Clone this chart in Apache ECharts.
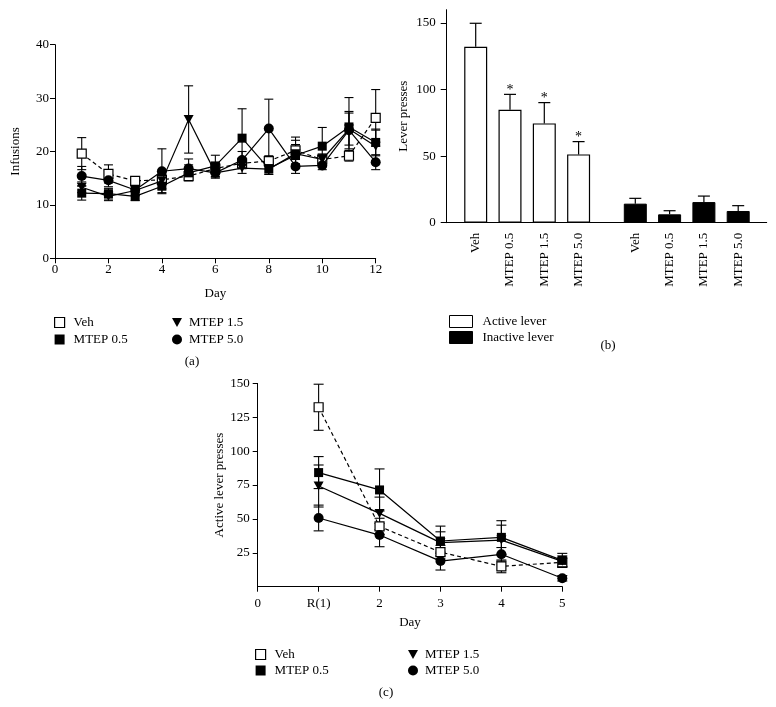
<!DOCTYPE html>
<html>
<head>
<meta charset="utf-8">
<script src="https://cdn.jsdelivr.net/npm/echarts@6/dist/echarts.min.js"></script>
<style>
html,body{margin:0;padding:0;background:#fff;}
#chart{width:776px;height:707px;}
</style>
</head>
<body>
<div id="chart"></div>
<script>
// ---------- DATA ----------
// Panel (a): infusions by day
const daysA = [1,2,3,4,5,6,7,8,9,10,11,12];
const vehA   = [19.6, 15.8, 14.5, 14.7, 15.4, 16.8, 17.8, 18.2, 20.2, 18.5, 19.2, 26.3];
const vehASem= [3.0, 1.7, 0.8, 1.0, 0.8, 1.0, 1.0, 1.0, 2.5, 1.0, 1.0, 5.3];
const m05A   = [12.2, 12.1, 11.6, 13.5, 16.0, 17.3, 22.5, 16.8, 19.3, 21.0, 24.6, 21.7];
const m05ASem= [1.3, 1.0, 0.8, 1.2, 1.5, 2.0, 5.5, 1.0, 2.0, 3.5, 5.5, 2.5];
const m15A   = [13.3, 11.6, 12.7, 14.5, 26.0, 16.0, 16.9, 16.7, 19.6, 18.5, 24.2, 21.0];
const m15ASem= [1.0, 0.8, 1.0, 1.5, 6.3, 1.0, 1.0, 1.0, 2.5, 1.0, 3.0, 3.0];
const m50A   = [15.4, 14.6, 12.8, 16.3, 16.8, 16.0, 18.4, 24.3, 17.2, 17.4, 24.0, 18.0];
const m50ASem= [1.8, 1.2, 1.0, 4.2, 1.8, 0.8, 1.6, 5.5, 1.3, 0.8, 3.5, 1.4];

// Panel (b): lever presses
const groupsB = ['Veh','MTEP 0.5','MTEP 1.5','MTEP 5.0'];
const activeB = [132.2, 84.9, 74.6, 51.3];
const activeBSem = [17.6, 11.5, 15.6, 9.6];
const activeBSig = [false, true, true, true];
const inactiveB = [14.3, 6.3, 15.5, 8.8];
const inactiveBSem = [4.0, 2.7, 4.5, 4.0];
const yTicksB = [0, 50, 100, 150];

// Panel (c): active lever presses
const catsC = ['0','R(1)','2','3','4','5'];
const vehC = [132.4, 44.5, 25.5, 15.0, 18.0];
const vehCSem = [17, 6, 5, 4.7, 3];
const m05C = [84.2, 71.4, 33.7, 36.4, 19.4];
const m05CSem = [11.8, 15.5, 11, 12.3, 5.2];
const m15C = [74.3, 54.1, 32.5, 34.4, 18.7];
const m15CSem = [15.5, 12, 8, 11, 4];
const m50C = [50.7, 38.1, 18.9, 23.9, 6.2];
const m50CSem = [9.5, 8.6, 6.6, 5, 2];

const seriesNames = ['Veh','MTEP 0.5','MTEP 1.5','MTEP 5.0'];

// ---------- STYLE ----------
const FONT = '"Liberation Serif","DejaVu Serif",serif';
const FS = 13;
const TRI = 'path://M0,0L10,0L5,9Z';
const styles = {
  'Veh':      {symbol:'rect', size:9, item:{color:'#fff',borderColor:'#000',borderWidth:1.2}, line:{color:'#000',width:1.2,type:[4,3]}},
  'MTEP 0.5': {symbol:'rect', size:9, item:{color:'#000',borderColor:'#000',borderWidth:0}, line:{color:'#000',width:1.2}},
  'MTEP 1.5': {symbol:TRI, size:[10,9], item:{color:'#000'}, line:{color:'#000',width:1.2}},
  'MTEP 5.0': {symbol:'circle', size:10, item:{color:'#000'}, line:{color:'#000',width:1.2}}
};
const textBase = {fontFamily:FONT, fontSize:FS, color:'#000'};

function errRender(hw){
  return function(params, api){
    const x = api.value(0), y = api.value(1), e = api.value(2);
    const t = api.coord([x, y + e]);
    const b = api.coord([x, y - e]);
    const st = {stroke:'#000', lineWidth:1.1};
    return {type:'group', children:[
      {type:'line', shape:{x1:t[0],y1:t[1],x2:b[0],y2:b[1]}, style:st},
      {type:'line', shape:{x1:t[0]-hw,y1:t[1],x2:t[0]+hw,y2:t[1]}, style:st},
      {type:'line', shape:{x1:b[0]-hw,y1:b[1],x2:b[0]+hw,y2:b[1]}, style:st}
    ]};
  };
}
function barErrRender(params, api){
  const x = api.value(0), y = api.value(1), e = api.value(2), sig = api.value(3);
  const base = api.coord([x, y]);
  const t = api.coord([x, y + e]);
  const st = {stroke:'#000', lineWidth:1.2};
  const ch = [
    {type:'line', shape:{x1:t[0],y1:t[1],x2:base[0],y2:base[1]}, style:st},
    {type:'line', shape:{x1:t[0]-6,y1:t[1],x2:t[0]+6,y2:t[1]}, style:st}
  ];
  if (sig) ch.push({type:'text', style:{text:'*', x:t[0], y:t[1]-4, align:'center', verticalAlign:'middle', font:'14px ' + FONT, fill:'#000'}});
  return {type:'group', children:ch};
}

const series = [];
// Panel (a)
const aVals = [vehA, m05A, m15A, m50A];
const aSems = [vehASem, m05ASem, m15ASem, m50ASem];
seriesNames.forEach((n, k) => {
  series.push({type:'custom', xAxisIndex:0, yAxisIndex:0, renderItem:errRender(4.5), z:1, silent:true,
    data: daysA.map((d,i)=>[d, aVals[k][i], aSems[k][i]])});
});
[1,2,3,0].forEach(k => {
  const n = seriesNames[k], s = styles[n];
  series.push({name:n, type:'line', xAxisIndex:0, yAxisIndex:0, z:3+k,
    symbol:s.symbol, symbolSize:s.size, itemStyle:s.item, lineStyle:s.line, showAllSymbol:true,
    data: daysA.map((d,i)=>[d, aVals[k][i]])});
});
// Panel (b)
series.push({name:'Active lever', type:'bar', xAxisIndex:2, yAxisIndex:2, barWidth:23,
  itemStyle:{color:'#fff', borderColor:'#000', borderWidth:1.2}, data: activeB, z:2});
series.push({type:'custom', xAxisIndex:2, yAxisIndex:2, renderItem:barErrRender, z:1, silent:true,
  data: activeB.map((v,i)=>[i, v, activeBSem[i], activeBSig[i]?1:0])});
series.push({name:'Inactive lever', type:'bar', xAxisIndex:3, yAxisIndex:3, barWidth:23,
  itemStyle:{color:'#000', borderColor:'#000', borderWidth:1}, data: inactiveB, z:2});
series.push({type:'custom', xAxisIndex:3, yAxisIndex:3, renderItem:barErrRender, z:1, silent:true,
  data: inactiveB.map((v,i)=>[i, v, inactiveBSem[i], 0])});
// Panel (c)
const cVals = [vehC, m05C, m15C, m50C];
const cSems = [vehCSem, m05CSem, m15CSem, m50CSem];
seriesNames.forEach((n, k) => {
  series.push({type:'custom', xAxisIndex:4, yAxisIndex:4, renderItem:errRender(5), z:1, silent:true,
    data: cVals[k].map((v,i)=>[i+1, v, cSems[k][i]])});
});
[1,2,3,0].forEach(k => {
  const n = seriesNames[k], s = styles[n];
  series.push({name:n, type:'line', xAxisIndex:4, yAxisIndex:4, z:3+k,
    symbol:s.symbol, symbolSize:s.size, itemStyle:s.item, lineStyle:s.line, showAllSymbol:true,
    data: cVals[k].map((v,i)=>[i+1, v])});
});

const axLine = {show:true, lineStyle:{color:'#000', width:1}};
const axTick = {show:true, length:5, lineStyle:{color:'#000', width:1}};

function legendItem(n){
  const s = styles[n];
  return {name:n, icon: s.symbol, itemStyle: Object.assign({}, s.item)};
}

const option = {
  animation:false,
  backgroundColor:'#fff',
  textStyle:{fontFamily:FONT},
  title:[
    {text:'(a)', left:192, top:362, textAlign:'center', textVerticalAlign:'middle', textStyle:Object.assign({}, textBase, {fontWeight:'normal'}), padding:0},
    {text:'(b)', left:608, top:346, textAlign:'center', textVerticalAlign:'middle', textStyle:Object.assign({}, textBase, {fontWeight:'normal'}), padding:0},
    {text:'(c)', left:386, top:693, textAlign:'center', textVerticalAlign:'middle', textStyle:Object.assign({}, textBase, {fontWeight:'normal'}), padding:0}
  ],
  legend:[
    {orient:'vertical', left:54, top:316, itemWidth:10, itemHeight:10, itemGap:4, padding:0, selectedMode:false,
      textStyle:Object.assign({}, textBase, {padding:[0,0,0,4]}), data:[legendItem('Veh'), legendItem('MTEP 0.5')]},
    {orient:'vertical', left:172, top:316, itemWidth:10, itemHeight:10, itemGap:4, padding:0, selectedMode:false,
      textStyle:Object.assign({}, textBase, {padding:[0,0,0,2]}), data:[legendItem('MTEP 1.5'), legendItem('MTEP 5.0')]},
    {orient:'vertical', left:449, top:315, itemWidth:23, itemHeight:12, itemGap:3, padding:0, selectedMode:false,
      textStyle:Object.assign({}, textBase, {padding:[0,0,0,5]}),
      data:[{name:'Active lever', icon:'rect', itemStyle:{color:'#fff', borderColor:'#000', borderWidth:1}},
            {name:'Inactive lever', icon:'rect', itemStyle:{color:'#000', borderColor:'#000', borderWidth:1}}]},
    {orient:'vertical', left:255, top:648, itemWidth:10, itemHeight:10, itemGap:3, padding:0, selectedMode:false,
      textStyle:Object.assign({}, textBase, {padding:[0,0,0,4]}), data:[legendItem('Veh'), legendItem('MTEP 0.5')]},
    {orient:'vertical', left:408, top:648, itemWidth:10, itemHeight:10, itemGap:3, padding:0, selectedMode:false,
      textStyle:Object.assign({}, textBase, {padding:[0,0,0,2]}), data:[legendItem('MTEP 1.5'), legendItem('MTEP 5.0')]}
  ],
  grid:[
    {left:55, top:44.7, width:320.7, height:213.6},
    {left:446.7, top:9.7, width:320, height:213},
    {left:458.55, top:9.7, width:137.2, height:213},
    {left:618.15, top:9.7, width:137.2, height:213},
    {left:257.7, top:383.4, width:304.6, height:203.3}
  ],
  xAxis:[
    {gridIndex:0, type:'value', min:0, max:12, interval:2, splitLine:{show:false},
      axisLine:axLine, axisTick:axTick, axisLabel:Object.assign({}, textBase, {margin:5}),
      name:'Day', nameLocation:'middle', nameGap:29, nameTextStyle:textBase},
    {gridIndex:1, type:'value', min:0, max:1, splitLine:{show:false},
      axisLine:axLine, axisTick:{show:false}, axisLabel:{show:false}},
    {gridIndex:2, type:'category', data:groupsB, axisLine:{show:false}, axisTick:{show:false},
      axisLabel:Object.assign({}, textBase, {rotate:90, margin:10, interval:0})},
    {gridIndex:3, type:'category', data:groupsB, axisLine:{show:false}, axisTick:{show:false},
      axisLabel:Object.assign({}, textBase, {rotate:90, margin:10, interval:0})},
    {gridIndex:4, type:'category', data:catsC, boundaryGap:false,
      axisLine:axLine, axisTick:Object.assign({}, axTick, {alignWithLabel:true}), axisLabel:Object.assign({}, textBase, {margin:10, interval:0}),
      name:'Day', nameLocation:'middle', nameGap:29, nameTextStyle:textBase}
  ],
  yAxis:[
    {gridIndex:0, type:'value', min:0, max:40, interval:10, splitLine:{show:false},
      axisLine:axLine, axisTick:axTick, axisLabel:Object.assign({}, textBase, {margin:6}),
      name:'Infusions', nameLocation:'middle', nameGap:33, nameTextStyle:textBase},
    {gridIndex:1, type:'value', min:0, max:160, splitLine:{show:false},
      axisLine:axLine, axisTick:Object.assign({}, axTick, {length:6, customValues:yTicksB}),
      axisLabel:Object.assign({}, textBase, {margin:11, customValues:yTicksB}),
      name:'Lever presses', nameLocation:'middle', nameGap:37, nameTextStyle:textBase},
    {gridIndex:2, type:'value', min:0, max:160, show:false, splitLine:{show:false}},
    {gridIndex:3, type:'value', min:0, max:160, show:false, splitLine:{show:false}},
    {gridIndex:4, type:'value', min:0, max:150, interval:25, splitLine:{show:false},
      axisLine:axLine, axisTick:axTick, axisLabel:Object.assign({}, textBase, {margin:8, showMinLabel:false}),
      name:'Active lever presses', nameLocation:'middle', nameGap:29, nameTextStyle:textBase}
  ],
  series: series
};

const chart = echarts.init(document.getElementById('chart'), null, {renderer:'canvas'});
chart.setOption(option);
</script>
</body>
</html>
